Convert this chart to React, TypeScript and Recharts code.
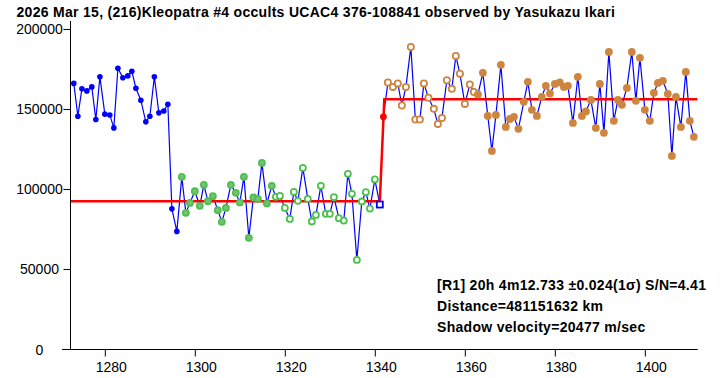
import React from 'react';
import { ComposedChart, Line, XAxis, YAxis } from 'recharts';

// pre-event baseline (blue)
const preTimes = [1273.0, 1273.9, 1274.8, 1275.9, 1277.0, 1277.9, 1278.8, 1279.9, 1281.0, 1281.9, 1282.8, 1283.9, 1285.0, 1285.9, 1286.8, 1287.9, 1289.0, 1289.9, 1290.9, 1291.9, 1293.0, 1293.9, 1294.8, 1295.9];
const preFlux = [166300, 145800, 162900, 161600, 164100, 143700, 170400, 147100, 146600, 138500, 175800, 169800, 171000, 173900, 163300, 155800, 142300, 145800, 170400, 147900, 149100, 153300, 87900, 73800];

// occulted part (green, filled then open)
const dipFilledTimes = [1297.0, 1297.9, 1298.8, 1299.9, 1301.0, 1301.9, 1302.8, 1303.9, 1305.0, 1305.9, 1306.8, 1307.9, 1309.0, 1309.9, 1310.8, 1311.9, 1312.9, 1313.9, 1314.8, 1315.9, 1317.0];
const dipFilledFlux = [107900, 85400, 91600, 98900, 89800, 102900, 92700, 95800, 87100, 79800, 88500, 102900, 97900, 91900, 107900, 69800, 95000, 94100, 116600, 91300, 102300];
const dipOpenTimes = [1317.9, 1318.8, 1319.9, 1321.0, 1321.9, 1322.8, 1323.9, 1325.0, 1325.9, 1326.8, 1327.9, 1329.0, 1329.9, 1330.8, 1331.9, 1333.0, 1333.9, 1334.8, 1335.9, 1337.0, 1337.9, 1338.8, 1339.9];
const dipOpenFlux = [95400, 96000, 88500, 81600, 98500, 92900, 113500, 94100, 80000, 84100, 102300, 84800, 84800, 95200, 82100, 80600, 109800, 97300, 56000, 92500, 98300, 88100, 106300];

// last point before reappearance, and the R1 point
const edgeTimes = [1341.0];
const edgeFlux = [90600];
const eventTimes = [1341.8];
const eventFlux = [145400];

// after reappearance (brown, open then filled)
const postOpenTimes = [1342.8, 1343.9, 1345.0, 1345.9, 1346.8, 1347.9, 1348.9, 1349.9, 1350.8, 1351.8, 1353.0, 1353.9, 1354.8, 1355.9, 1357.0, 1357.9, 1358.8, 1359.9, 1361.0, 1361.9];
const postOpenFlux = [166900, 164100, 166300, 152500, 164100, 189100, 143700, 143700, 166300, 157300, 150400, 141000, 144700, 168300, 162900, 183500, 172300, 153500, 165600, 161000];
const postFilledTimes = [1362.8, 1363.9, 1365.0, 1365.9, 1366.8, 1367.9, 1369.0, 1369.9, 1370.8, 1371.8, 1373.0, 1373.9, 1374.8, 1375.9, 1377.0, 1377.9, 1378.8, 1379.9, 1381.0, 1381.9, 1382.8, 1383.9, 1385.0, 1385.9, 1386.8, 1387.9, 1389.0, 1389.9, 1390.8, 1391.9, 1393.0, 1393.9, 1394.8, 1395.9, 1397.0, 1397.9, 1398.8, 1399.9, 1401.0, 1401.9, 1402.8, 1403.9, 1405.0, 1405.9, 1406.8, 1407.9, 1409.0, 1409.9, 1410.8];
const postFilledFlux = [159400, 172900, 146000, 124100, 146600, 177900, 139100, 144100, 145400, 137900, 154800, 167300, 149800, 146000, 157900, 164800, 160000, 166000, 166900, 164100, 164800, 141600, 170400, 146000, 148800, 156000, 138500, 166000, 135400, 186000, 142900, 156000, 152900, 163500, 186000, 155400, 182300, 149800, 142900, 160400, 166600, 167900, 159800, 121000, 157900, 139100, 173500, 142900, 132900];

// step model fit
const fitTimes = [1272.3, 1341.0, 1342.0, 1411.6];
const fitFlux = [92700, 92700, 156400, 156400];

const xTicks = [1280, 1300, 1320, 1340, 1360, 1380, 1400];
const yTicks = [0, 50000, 100000, 150000, 200000];

const TITLE = '2026 Mar 15, (216)Kleopatra #4 occults UCAC4 376-108841 observed by Yasukazu Ikari';
const NOTES = [
  '[R1] 20h 4m12.733 ±0.024(1σ) S/N=4.41',
  'Distance=481151632 km',
  'Shadow velocity=20477 m/sec',
];

const FONT = 'Arial, "Liberation Sans", sans-serif';
const GREEN = '#4cc24c';
const GREEN_FILL = '#7dbd7d';
const BROWN = '#cd853f';

type Kind = 'pre' | 'dipFilled' | 'dipOpen' | 'edge' | 'event' | 'postOpen' | 'postFilled';

const segment = (times: number[], flux: number[], kind: Kind) =>
  times.map((t, i) => ({ t, flux: flux[i], kind }));

const lightCurve = [
  ...segment(preTimes, preFlux, 'pre'),
  ...segment(dipFilledTimes, dipFilledFlux, 'dipFilled'),
  ...segment(dipOpenTimes, dipOpenFlux, 'dipOpen'),
  ...segment(edgeTimes, edgeFlux, 'edge'),
  ...segment(eventTimes, eventFlux, 'event'),
  ...segment(postOpenTimes, postOpenFlux, 'postOpen'),
  ...segment(postFilledTimes, postFilledFlux, 'postFilled'),
];
const fitLine = fitTimes.map((t, i) => ({ t, flux: fitFlux[i] }));
const eventPoint = segment(eventTimes, eventFlux, 'event');

function CurveDot(props: any) {
  const { cx, cy, payload, index } = props;
  const key = `d-${index}`;
  if (cx == null || cy == null) return <g key={key} />;
  switch (payload.kind as Kind) {
    case 'pre':
      return <circle key={key} cx={cx} cy={cy} r={2.8} fill="#0000ff" />;
    case 'dipFilled':
      return <circle key={key} cx={cx} cy={cy} r={3} fill={GREEN_FILL} stroke={GREEN} strokeWidth={1.8} />;
    case 'dipOpen':
      return <circle key={key} cx={cx} cy={cy} r={3} fill="#fff" stroke={GREEN} strokeWidth={1.8} />;
    case 'edge':
      return <rect key={key} x={cx - 3} y={cy - 3} width={6} height={6} fill="#fff" stroke="#0000ff" strokeWidth={1.8} />;
    case 'postOpen':
      return <circle key={key} cx={cx} cy={cy} r={3.1} fill="#fff" stroke={BROWN} strokeWidth={1.8} />;
    case 'postFilled':
      return <circle key={key} cx={cx} cy={cy} r={3.9} fill={BROWN} />;
    default:
      return <g key={key} />;
  }
}

const EventDot = (props: any) => {
  const { cx, cy, index } = props;
  if (cx == null || cy == null) return <g key={`e-${index}`} />;
  return <circle key={`e-${index}`} cx={cx} cy={cy} r={3.4} fill="#ff0000" />;
};

const YTick = ({ y, payload }: any) => (
  <text x={39.5} y={y} textAnchor="middle" dominantBaseline="central" fontSize={14} fontFamily={FONT} fill="#000">
    {payload.value}
  </text>
);

const XTick = ({ x, payload }: any) => (
  <text x={x + 6} y={371.5} textAnchor="middle" fontSize={14} fontFamily={FONT} fill="#000">
    {payload.value}
  </text>
);

export default function App() {
  return (
    <div style={{ position: 'relative', width: 728, height: 378, background: '#fff', fontFamily: FONT }}>
      <style>{'body{margin:0}'}</style>
      <ComposedChart width={728} height={378} margin={{ top: 21, right: 30.3, bottom: 0, left: 0 }}>
        <XAxis
          type="number"
          dataKey="t"
          domain={[1272.267, 1411.64]}
          allowDataOverflow
          ticks={xTicks}
          height={28.5}
          tickSize={7}
          tick={XTick}
          axisLine={{ stroke: '#000', strokeWidth: 1 }}
          tickLine={{ stroke: '#000', strokeWidth: 1 }}
        />
        <YAxis
          type="number"
          domain={[0, 205300]}
          allowDataOverflow
          ticks={yTicks}
          width={70.5}
          tickSize={7}
          tick={YTick}
          axisLine={{ stroke: '#000', strokeWidth: 1 }}
          tickLine={{ stroke: '#000', strokeWidth: 1 }}
        />
        <Line
          data={lightCurve}
          dataKey="flux"
          type="linear"
          stroke="#0000ff"
          strokeWidth={1.2}
          dot={CurveDot}
          activeDot={false}
          isAnimationActive={false}
        />
        <Line
          data={fitLine}
          dataKey="flux"
          type="linear"
          stroke="#ff0000"
          strokeWidth={2.5}
          dot={false}
          activeDot={false}
          isAnimationActive={false}
        />
        <Line
          data={eventPoint}
          dataKey="flux"
          stroke="none"
          dot={EventDot}
          activeDot={false}
          isAnimationActive={false}
        />
      </ComposedChart>
      <div style={{ position: 'absolute', left: 62, top: 349, width: 9, height: 1, background: '#000' }} />
      <div
        style={{
          position: 'absolute', left: 16.5, top: 5, fontSize: 14, lineHeight: '14px',
          fontWeight: 'bold', letterSpacing: 0.3, whiteSpace: 'nowrap', color: '#000',
        }}
      >
        {TITLE}
      </div>
      {NOTES.map((line, i) => (
        <div
          key={line}
          style={{
            position: 'absolute', left: 437, top: [278, 298.5, 319.5][i], fontSize: 14, lineHeight: '14px',
            fontWeight: 'bold', letterSpacing: 0.3, whiteSpace: 'nowrap', color: '#000',
          }}
        >
          {line}
        </div>
      ))}
    </div>
  );
}
